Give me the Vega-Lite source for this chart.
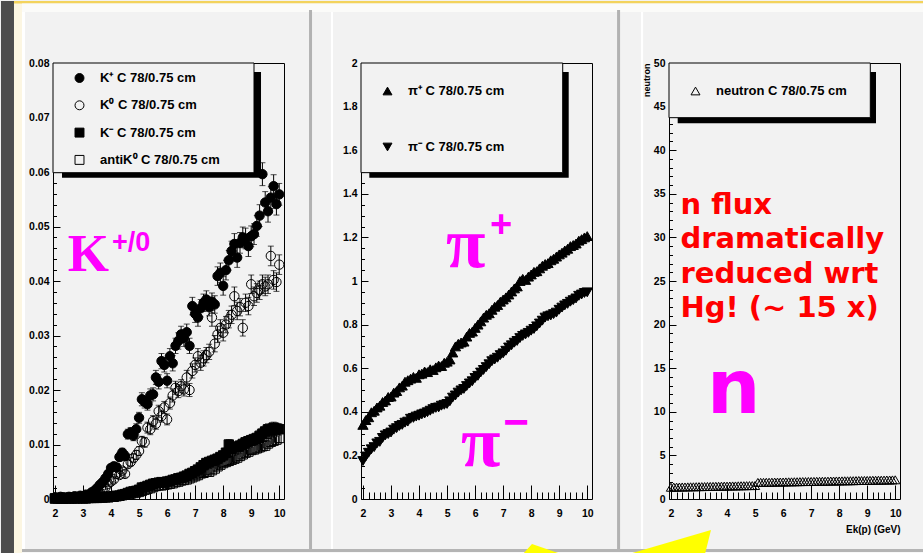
{
  "$schema": "https://vega.github.io/schema/vega-lite/v6.json",
  "padding": 0,
  "background": "#f2f2f2",
  "spacing": 77,
  "bounds": "flush",
  "datasets": {
    "kaon": [
      {"s":"Kp","x":2.0,"y":0.0003,"e":0.0002},{"s":"Kp","x":2.1,"y":0.0002,"e":0.0002},{"s":"Kp","x":2.2,"y":0.0004,"e":0.0002},{"s":"Kp","x":2.3,"y":0.0003,"e":0.0002},{"s":"Kp","x":2.4,"y":0.0002,"e":0.0002},
      {"s":"Kp","x":2.5,"y":0.0004,"e":0.0002},{"s":"Kp","x":2.6,"y":0.0003,"e":0.0002},{"s":"Kp","x":2.7,"y":0.0005,"e":0.0002},{"s":"Kp","x":2.8,"y":0.0004,"e":0.0002},{"s":"Kp","x":2.9,"y":0.0006,"e":0.0002},
      {"s":"Kp","x":3.0,"y":0.0005,"e":0.0002},{"s":"Kp","x":3.1,"y":0.0008,"e":0.0002},{"s":"Kp","x":3.2,"y":0.0007,"e":0.0002},{"s":"Kp","x":3.3,"y":0.0012,"e":0.0003},{"s":"Kp","x":3.4,"y":0.0015,"e":0.0003},
      {"s":"Kp","x":3.5,"y":0.0020,"e":0.0004},{"s":"Kp","x":3.6,"y":0.0026,"e":0.0004},{"s":"Kp","x":3.7,"y":0.0031,"e":0.0005},{"s":"Kp","x":3.8,"y":0.0038,"e":0.0005},{"s":"Kp","x":3.9,"y":0.0046,"e":0.0006},
      {"s":"Kp","x":4.0,"y":0.0057,"e":0.0006},{"s":"Kp","x":4.1,"y":0.0060,"e":0.0007},{"s":"Kp","x":4.2,"y":0.0058,"e":0.0007},{"s":"Kp","x":4.3,"y":0.0077,"e":0.0008},{"s":"Kp","x":4.4,"y":0.0085,"e":0.0008},
      {"s":"Kp","x":4.5,"y":0.0079,"e":0.0008},{"s":"Kp","x":4.6,"y":0.0119,"e":0.0009},{"s":"Kp","x":4.7,"y":0.0122,"e":0.0009},{"s":"Kp","x":4.8,"y":0.0116,"e":0.0009},{"s":"Kp","x":4.9,"y":0.0128,"e":0.0010},
      {"s":"Kp","x":5.0,"y":0.0149,"e":0.0010},{"s":"Kp","x":5.1,"y":0.0183,"e":0.0012},{"s":"Kp","x":5.2,"y":0.0178,"e":0.0011},{"s":"Kp","x":5.3,"y":0.0174,"e":0.0011},{"s":"Kp","x":5.4,"y":0.0190,"e":0.0012},
      {"s":"Kp","x":5.5,"y":0.0192,"e":0.0012},{"s":"Kp","x":5.6,"y":0.0223,"e":0.0013},{"s":"Kp","x":5.7,"y":0.0215,"e":0.0013},{"s":"Kp","x":5.8,"y":0.0253,"e":0.0014},{"s":"Kp","x":5.9,"y":0.0246,"e":0.0013},
      {"s":"Kp","x":6.0,"y":0.0217,"e":0.0013},{"s":"Kp","x":6.1,"y":0.0262,"e":0.0014},{"s":"Kp","x":6.2,"y":0.0249,"e":0.0014},{"s":"Kp","x":6.3,"y":0.0281,"e":0.0014},{"s":"Kp","x":6.4,"y":0.0290,"e":0.0015},
      {"s":"Kp","x":6.5,"y":0.0302,"e":0.0015},{"s":"Kp","x":6.6,"y":0.0295,"e":0.0015},{"s":"Kp","x":6.7,"y":0.0306,"e":0.0015},{"s":"Kp","x":6.8,"y":0.0281,"e":0.0014},{"s":"Kp","x":6.9,"y":0.0354,"e":0.0016},
      {"s":"Kp","x":7.0,"y":0.0340,"e":0.0016},{"s":"Kp","x":7.1,"y":0.0333,"e":0.0016},{"s":"Kp","x":7.2,"y":0.0350,"e":0.0016},{"s":"Kp","x":7.3,"y":0.0360,"e":0.0016},{"s":"Kp","x":7.4,"y":0.0366,"e":0.0016},
      {"s":"Kp","x":7.5,"y":0.0352,"e":0.0016},{"s":"Kp","x":7.6,"y":0.0362,"e":0.0016},{"s":"Kp","x":7.7,"y":0.0357,"e":0.0016},{"s":"Kp","x":7.8,"y":0.0409,"e":0.0017},{"s":"Kp","x":7.9,"y":0.0415,"e":0.0018},
      {"s":"Kp","x":8.0,"y":0.0391,"e":0.0017},{"s":"Kp","x":8.1,"y":0.0420,"e":0.0018},{"s":"Kp","x":8.2,"y":0.0438,"e":0.0018},{"s":"Kp","x":8.3,"y":0.0455,"e":0.0018},{"s":"Kp","x":8.4,"y":0.0468,"e":0.0019},
      {"s":"Kp","x":8.5,"y":0.0443,"e":0.0018},{"s":"Kp","x":8.6,"y":0.0470,"e":0.0019},{"s":"Kp","x":8.7,"y":0.0480,"e":0.0019},{"s":"Kp","x":8.8,"y":0.0478,"e":0.0019},{"s":"Kp","x":8.9,"y":0.0464,"e":0.0019},
      {"s":"Kp","x":9.0,"y":0.0482,"e":0.0019},{"s":"Kp","x":9.1,"y":0.0486,"e":0.0019},{"s":"Kp","x":9.2,"y":0.0501,"e":0.0019},{"s":"Kp","x":9.3,"y":0.0520,"e":0.0020},{"s":"Kp","x":9.4,"y":0.0596,"e":0.0021},
      {"s":"Kp","x":9.5,"y":0.0544,"e":0.0020},{"s":"Kp","x":9.6,"y":0.0528,"e":0.0020},{"s":"Kp","x":9.7,"y":0.0553,"e":0.0020},{"s":"Kp","x":9.8,"y":0.0574,"e":0.0021},{"s":"Kp","x":9.9,"y":0.0541,"e":0.0020},
      {"s":"Kp","x":10.0,"y":0.0559,"e":0.0020},
      {"s":"K0","x":2.0,"y":0.0002,"e":0.0002},{"s":"K0","x":2.1,"y":0.0001,"e":0.0002},{"s":"K0","x":2.2,"y":0.0002,"e":0.0002},{"s":"K0","x":2.3,"y":0.0002,"e":0.0002},{"s":"K0","x":2.4,"y":0.0001,"e":0.0002},
      {"s":"K0","x":2.5,"y":0.0002,"e":0.0002},{"s":"K0","x":2.6,"y":0.0003,"e":0.0002},{"s":"K0","x":2.7,"y":0.0002,"e":0.0002},{"s":"K0","x":2.8,"y":0.0003,"e":0.0002},{"s":"K0","x":2.9,"y":0.0003,"e":0.0002},
      {"s":"K0","x":3.0,"y":0.0004,"e":0.0002},{"s":"K0","x":3.1,"y":0.0004,"e":0.0002},{"s":"K0","x":3.2,"y":0.0005,"e":0.0002},{"s":"K0","x":3.3,"y":0.0006,"e":0.0002},{"s":"K0","x":3.4,"y":0.0008,"e":0.0002},
      {"s":"K0","x":3.5,"y":0.0010,"e":0.0003},{"s":"K0","x":3.6,"y":0.0012,"e":0.0003},{"s":"K0","x":3.7,"y":0.0018,"e":0.0004},{"s":"K0","x":3.8,"y":0.0021,"e":0.0004},{"s":"K0","x":3.9,"y":0.0028,"e":0.0005},
      {"s":"K0","x":4.0,"y":0.0032,"e":0.0005},{"s":"K0","x":4.1,"y":0.0036,"e":0.0005},{"s":"K0","x":4.2,"y":0.0046,"e":0.0006},{"s":"K0","x":4.3,"y":0.0044,"e":0.0006},{"s":"K0","x":4.4,"y":0.0052,"e":0.0006},
      {"s":"K0","x":4.5,"y":0.0046,"e":0.0006},{"s":"K0","x":4.6,"y":0.0064,"e":0.0007},{"s":"K0","x":4.7,"y":0.0068,"e":0.0007},{"s":"K0","x":4.8,"y":0.0075,"e":0.0007},{"s":"K0","x":4.9,"y":0.0081,"e":0.0008},
      {"s":"K0","x":5.0,"y":0.0088,"e":0.0008},{"s":"K0","x":5.1,"y":0.0106,"e":0.0009},{"s":"K0","x":5.2,"y":0.0104,"e":0.0009},{"s":"K0","x":5.3,"y":0.0131,"e":0.0010},{"s":"K0","x":5.4,"y":0.0128,"e":0.0010},
      {"s":"K0","x":5.5,"y":0.0143,"e":0.0010},{"s":"K0","x":5.6,"y":0.0138,"e":0.0010},{"s":"K0","x":5.7,"y":0.0161,"e":0.0011},{"s":"K0","x":5.8,"y":0.0152,"e":0.0011},{"s":"K0","x":5.9,"y":0.0168,"e":0.0011},
      {"s":"K0","x":6.0,"y":0.0146,"e":0.0010},{"s":"K0","x":6.1,"y":0.0176,"e":0.0011},{"s":"K0","x":6.2,"y":0.0190,"e":0.0012},{"s":"K0","x":6.3,"y":0.0204,"e":0.0012},{"s":"K0","x":6.4,"y":0.0198,"e":0.0012},
      {"s":"K0","x":6.5,"y":0.0207,"e":0.0012},{"s":"K0","x":6.6,"y":0.0201,"e":0.0012},{"s":"K0","x":6.7,"y":0.0223,"e":0.0013},{"s":"K0","x":6.8,"y":0.0200,"e":0.0012},{"s":"K0","x":6.9,"y":0.0235,"e":0.0013},
      {"s":"K0","x":7.0,"y":0.0246,"e":0.0013},{"s":"K0","x":7.1,"y":0.0262,"e":0.0014},{"s":"K0","x":7.2,"y":0.0250,"e":0.0014},{"s":"K0","x":7.3,"y":0.0258,"e":0.0014},{"s":"K0","x":7.4,"y":0.0264,"e":0.0014},
      {"s":"K0","x":7.5,"y":0.0270,"e":0.0014},{"s":"K0","x":7.6,"y":0.0333,"e":0.0016},{"s":"K0","x":7.7,"y":0.0285,"e":0.0015},{"s":"K0","x":7.8,"y":0.0302,"e":0.0015},{"s":"K0","x":7.9,"y":0.0314,"e":0.0015},
      {"s":"K0","x":8.0,"y":0.0305,"e":0.0015},{"s":"K0","x":8.1,"y":0.0320,"e":0.0015},{"s":"K0","x":8.2,"y":0.0330,"e":0.0016},{"s":"K0","x":8.3,"y":0.0338,"e":0.0016},{"s":"K0","x":8.4,"y":0.0372,"e":0.0017},
      {"s":"K0","x":8.5,"y":0.0345,"e":0.0016},{"s":"K0","x":8.6,"y":0.0352,"e":0.0016},{"s":"K0","x":8.7,"y":0.0314,"e":0.0015},{"s":"K0","x":8.8,"y":0.0360,"e":0.0016},{"s":"K0","x":8.9,"y":0.0354,"e":0.0016},
      {"s":"K0","x":9.0,"y":0.0394,"e":0.0017},{"s":"K0","x":9.1,"y":0.0372,"e":0.0017},{"s":"K0","x":9.2,"y":0.0378,"e":0.0017},{"s":"K0","x":9.3,"y":0.0383,"e":0.0017},{"s":"K0","x":9.4,"y":0.0394,"e":0.0017},
      {"s":"K0","x":9.5,"y":0.0390,"e":0.0017},{"s":"K0","x":9.6,"y":0.0394,"e":0.0017},{"s":"K0","x":9.7,"y":0.0446,"e":0.0018},{"s":"K0","x":9.8,"y":0.0402,"e":0.0017},{"s":"K0","x":9.9,"y":0.0398,"e":0.0017},
      {"s":"K0","x":10.0,"y":0.0430,"e":0.0018},
      {"s":"Km","x":2.0,"y":0.0001,"e":0.0001},{"s":"Km","x":2.1,"y":0.0002,"e":0.0001},{"s":"Km","x":2.2,"y":0.0001,"e":0.0001},{"s":"Km","x":2.3,"y":0.0001,"e":0.0001},{"s":"Km","x":2.4,"y":0.0002,"e":0.0001},
      {"s":"Km","x":2.5,"y":0.0001,"e":0.0001},{"s":"Km","x":2.6,"y":0.0002,"e":0.0001},{"s":"Km","x":2.7,"y":0.0001,"e":0.0001},{"s":"Km","x":2.8,"y":0.0002,"e":0.0001},{"s":"Km","x":2.9,"y":0.0002,"e":0.0001},
      {"s":"Km","x":3.0,"y":0.0001,"e":0.0001},{"s":"Km","x":3.1,"y":0.0002,"e":0.0001},{"s":"Km","x":3.2,"y":0.0002,"e":0.0001},{"s":"Km","x":3.3,"y":0.0003,"e":0.0001},{"s":"Km","x":3.4,"y":0.0002,"e":0.0001},
      {"s":"Km","x":3.5,"y":0.0003,"e":0.0001},{"s":"Km","x":3.6,"y":0.0003,"e":0.0001},{"s":"Km","x":3.7,"y":0.0003,"e":0.0001},{"s":"Km","x":3.8,"y":0.0004,"e":0.0002},{"s":"Km","x":3.9,"y":0.0003,"e":0.0001},
      {"s":"Km","x":4.0,"y":0.0004,"e":0.0002},{"s":"Km","x":4.1,"y":0.0005,"e":0.0002},{"s":"Km","x":4.2,"y":0.0006,"e":0.0002},{"s":"Km","x":4.3,"y":0.0006,"e":0.0002},{"s":"Km","x":4.4,"y":0.0008,"e":0.0002},
      {"s":"Km","x":4.5,"y":0.0009,"e":0.0002},{"s":"Km","x":4.6,"y":0.0011,"e":0.0003},{"s":"Km","x":4.7,"y":0.0013,"e":0.0003},{"s":"Km","x":4.8,"y":0.0014,"e":0.0003},{"s":"Km","x":4.9,"y":0.0015,"e":0.0003},
      {"s":"Km","x":5.0,"y":0.0017,"e":0.0003},{"s":"Km","x":5.1,"y":0.0021,"e":0.0004},{"s":"Km","x":5.2,"y":0.0022,"e":0.0004},{"s":"Km","x":5.3,"y":0.0024,"e":0.0004},{"s":"Km","x":5.4,"y":0.0026,"e":0.0004},
      {"s":"Km","x":5.5,"y":0.0028,"e":0.0004},{"s":"Km","x":5.6,"y":0.0029,"e":0.0004},{"s":"Km","x":5.7,"y":0.0030,"e":0.0004},{"s":"Km","x":5.8,"y":0.0031,"e":0.0004},{"s":"Km","x":5.9,"y":0.0030,"e":0.0004},
      {"s":"Km","x":6.0,"y":0.0032,"e":0.0005},{"s":"Km","x":6.1,"y":0.0033,"e":0.0005},{"s":"Km","x":6.2,"y":0.0035,"e":0.0005},{"s":"Km","x":6.3,"y":0.0036,"e":0.0005},{"s":"Km","x":6.4,"y":0.0038,"e":0.0005},
      {"s":"Km","x":6.5,"y":0.0039,"e":0.0005},{"s":"Km","x":6.6,"y":0.0041,"e":0.0005},{"s":"Km","x":6.7,"y":0.0043,"e":0.0005},{"s":"Km","x":6.8,"y":0.0046,"e":0.0006},{"s":"Km","x":6.9,"y":0.0048,"e":0.0006},
      {"s":"Km","x":7.0,"y":0.0051,"e":0.0006},{"s":"Km","x":7.1,"y":0.0054,"e":0.0006},{"s":"Km","x":7.2,"y":0.0058,"e":0.0006},{"s":"Km","x":7.3,"y":0.0062,"e":0.0007},{"s":"Km","x":7.4,"y":0.0066,"e":0.0007},
      {"s":"Km","x":7.5,"y":0.0068,"e":0.0007},{"s":"Km","x":7.6,"y":0.0070,"e":0.0007},{"s":"Km","x":7.7,"y":0.0072,"e":0.0007},{"s":"Km","x":7.8,"y":0.0074,"e":0.0007},{"s":"Km","x":7.9,"y":0.0077,"e":0.0007},
      {"s":"Km","x":8.0,"y":0.0080,"e":0.0008},{"s":"Km","x":8.1,"y":0.0085,"e":0.0008},{"s":"Km","x":8.2,"y":0.0100,"e":0.0009},{"s":"Km","x":8.3,"y":0.0092,"e":0.0008},{"s":"Km","x":8.4,"y":0.0095,"e":0.0009},
      {"s":"Km","x":8.5,"y":0.0096,"e":0.0009},{"s":"Km","x":8.6,"y":0.0098,"e":0.0009},{"s":"Km","x":8.7,"y":0.0101,"e":0.0009},{"s":"Km","x":8.8,"y":0.0104,"e":0.0009},{"s":"Km","x":8.9,"y":0.0106,"e":0.0009},
      {"s":"Km","x":9.0,"y":0.0108,"e":0.0009},{"s":"Km","x":9.1,"y":0.0110,"e":0.0009},{"s":"Km","x":9.2,"y":0.0112,"e":0.0009},{"s":"Km","x":9.3,"y":0.0116,"e":0.0010},{"s":"Km","x":9.4,"y":0.0120,"e":0.0010},
      {"s":"Km","x":9.5,"y":0.0124,"e":0.0010},{"s":"Km","x":9.6,"y":0.0128,"e":0.0010},{"s":"Km","x":9.7,"y":0.0126,"e":0.0010},{"s":"Km","x":9.8,"y":0.0131,"e":0.0010},{"s":"Km","x":9.9,"y":0.0129,"e":0.0010},
      {"s":"Km","x":10.0,"y":0.0128,"e":0.0010},
      {"s":"aK0","x":2.0,"y":0.0001,"e":0.0001},{"s":"aK0","x":2.1,"y":0.0001,"e":0.0001},{"s":"aK0","x":2.2,"y":0.0002,"e":0.0001},{"s":"aK0","x":2.3,"y":0.0001,"e":0.0001},{"s":"aK0","x":2.4,"y":0.0001,"e":0.0001},
      {"s":"aK0","x":2.5,"y":0.0002,"e":0.0001},{"s":"aK0","x":2.6,"y":0.0001,"e":0.0001},{"s":"aK0","x":2.7,"y":0.0002,"e":0.0001},{"s":"aK0","x":2.8,"y":0.0001,"e":0.0001},{"s":"aK0","x":2.9,"y":0.0002,"e":0.0001},
      {"s":"aK0","x":3.0,"y":0.0002,"e":0.0001},{"s":"aK0","x":3.1,"y":0.0001,"e":0.0001},{"s":"aK0","x":3.2,"y":0.0002,"e":0.0001},{"s":"aK0","x":3.3,"y":0.0002,"e":0.0001},{"s":"aK0","x":3.4,"y":0.0003,"e":0.0001},
      {"s":"aK0","x":3.5,"y":0.0002,"e":0.0001},{"s":"aK0","x":3.6,"y":0.0003,"e":0.0001},{"s":"aK0","x":3.7,"y":0.0003,"e":0.0001},{"s":"aK0","x":3.8,"y":0.0003,"e":0.0001},{"s":"aK0","x":3.9,"y":0.0004,"e":0.0002},
      {"s":"aK0","x":4.0,"y":0.0004,"e":0.0002},{"s":"aK0","x":4.1,"y":0.0004,"e":0.0002},{"s":"aK0","x":4.2,"y":0.0005,"e":0.0002},{"s":"aK0","x":4.3,"y":0.0006,"e":0.0002},{"s":"aK0","x":4.4,"y":0.0007,"e":0.0002},
      {"s":"aK0","x":4.5,"y":0.0008,"e":0.0002},{"s":"aK0","x":4.6,"y":0.0009,"e":0.0002},{"s":"aK0","x":4.7,"y":0.0010,"e":0.0003},{"s":"aK0","x":4.8,"y":0.0011,"e":0.0003},{"s":"aK0","x":4.9,"y":0.0012,"e":0.0003},
      {"s":"aK0","x":5.0,"y":0.0013,"e":0.0003},{"s":"aK0","x":5.1,"y":0.0015,"e":0.0003},{"s":"aK0","x":5.2,"y":0.0017,"e":0.0003},{"s":"aK0","x":5.3,"y":0.0019,"e":0.0004},{"s":"aK0","x":5.4,"y":0.0020,"e":0.0004},
      {"s":"aK0","x":5.5,"y":0.0022,"e":0.0004},{"s":"aK0","x":5.6,"y":0.0024,"e":0.0004},{"s":"aK0","x":5.7,"y":0.0025,"e":0.0004},{"s":"aK0","x":5.8,"y":0.0025,"e":0.0004},{"s":"aK0","x":5.9,"y":0.0026,"e":0.0004},
      {"s":"aK0","x":6.0,"y":0.0027,"e":0.0004},{"s":"aK0","x":6.1,"y":0.0028,"e":0.0004},{"s":"aK0","x":6.2,"y":0.0029,"e":0.0004},{"s":"aK0","x":6.3,"y":0.0031,"e":0.0004},{"s":"aK0","x":6.4,"y":0.0032,"e":0.0005},
      {"s":"aK0","x":6.5,"y":0.0034,"e":0.0005},{"s":"aK0","x":6.6,"y":0.0035,"e":0.0005},{"s":"aK0","x":6.7,"y":0.0036,"e":0.0005},{"s":"aK0","x":6.8,"y":0.0038,"e":0.0005},{"s":"aK0","x":6.9,"y":0.0040,"e":0.0005},
      {"s":"aK0","x":7.0,"y":0.0042,"e":0.0005},{"s":"aK0","x":7.1,"y":0.0044,"e":0.0006},{"s":"aK0","x":7.2,"y":0.0047,"e":0.0006},{"s":"aK0","x":7.3,"y":0.0048,"e":0.0006},{"s":"aK0","x":7.4,"y":0.0050,"e":0.0006},
      {"s":"aK0","x":7.5,"y":0.0050,"e":0.0006},{"s":"aK0","x":7.6,"y":0.0053,"e":0.0006},{"s":"aK0","x":7.7,"y":0.0056,"e":0.0006},{"s":"aK0","x":7.8,"y":0.0060,"e":0.0007},{"s":"aK0","x":7.9,"y":0.0063,"e":0.0007},
      {"s":"aK0","x":8.0,"y":0.0066,"e":0.0007},{"s":"aK0","x":8.1,"y":0.0068,"e":0.0007},{"s":"aK0","x":8.2,"y":0.0070,"e":0.0007},{"s":"aK0","x":8.3,"y":0.0072,"e":0.0007},{"s":"aK0","x":8.4,"y":0.0074,"e":0.0007},
      {"s":"aK0","x":8.5,"y":0.0076,"e":0.0007},{"s":"aK0","x":8.6,"y":0.0079,"e":0.0008},{"s":"aK0","x":8.7,"y":0.0082,"e":0.0008},{"s":"aK0","x":8.8,"y":0.0085,"e":0.0008},{"s":"aK0","x":8.9,"y":0.0087,"e":0.0008},
      {"s":"aK0","x":9.0,"y":0.0090,"e":0.0008},{"s":"aK0","x":9.1,"y":0.0091,"e":0.0008},{"s":"aK0","x":9.2,"y":0.0093,"e":0.0008},{"s":"aK0","x":9.3,"y":0.0095,"e":0.0009},{"s":"aK0","x":9.4,"y":0.0097,"e":0.0009},
      {"s":"aK0","x":9.5,"y":0.0098,"e":0.0009},{"s":"aK0","x":9.6,"y":0.0102,"e":0.0009},{"s":"aK0","x":9.7,"y":0.0105,"e":0.0009},{"s":"aK0","x":9.8,"y":0.0107,"e":0.0009},{"s":"aK0","x":9.9,"y":0.0109,"e":0.0009},
      {"s":"aK0","x":10.0,"y":0.0112,"e":0.0009}
    ],
    "pion": [
      {"s":"pp","x":2.0,"y":0.340},{"s":"pp","x":2.1,"y":0.362},{"s":"pp","x":2.2,"y":0.375},{"s":"pp","x":2.3,"y":0.398},{"s":"pp","x":2.4,"y":0.405},
      {"s":"pp","x":2.5,"y":0.420},{"s":"pp","x":2.6,"y":0.428},{"s":"pp","x":2.7,"y":0.445},{"s":"pp","x":2.8,"y":0.452},{"s":"pp","x":2.9,"y":0.468},
      {"s":"pp","x":3.0,"y":0.470},{"s":"pp","x":3.1,"y":0.488},{"s":"pp","x":3.2,"y":0.495},{"s":"pp","x":3.3,"y":0.512},{"s":"pp","x":3.4,"y":0.520},
      {"s":"pp","x":3.5,"y":0.538},{"s":"pp","x":3.6,"y":0.545},{"s":"pp","x":3.7,"y":0.552},{"s":"pp","x":3.8,"y":0.560},{"s":"pp","x":3.9,"y":0.556},
      {"s":"pp","x":4.0,"y":0.572},{"s":"pp","x":4.1,"y":0.575},{"s":"pp","x":4.2,"y":0.585},{"s":"pp","x":4.3,"y":0.582},{"s":"pp","x":4.4,"y":0.595},
      {"s":"pp","x":4.5,"y":0.592},{"s":"pp","x":4.6,"y":0.604},{"s":"pp","x":4.7,"y":0.612},{"s":"pp","x":4.8,"y":0.610},{"s":"pp","x":4.9,"y":0.625},
      {"s":"pp","x":5.0,"y":0.630},{"s":"pp","x":5.1,"y":0.640},{"s":"pp","x":5.2,"y":0.672},{"s":"pp","x":5.3,"y":0.700},{"s":"pp","x":5.4,"y":0.712},
      {"s":"pp","x":5.5,"y":0.718},{"s":"pp","x":5.6,"y":0.722},{"s":"pp","x":5.7,"y":0.745},{"s":"pp","x":5.8,"y":0.762},{"s":"pp","x":5.9,"y":0.768},
      {"s":"pp","x":6.0,"y":0.785},{"s":"pp","x":6.1,"y":0.800},{"s":"pp","x":6.2,"y":0.815},{"s":"pp","x":6.3,"y":0.832},{"s":"pp","x":6.4,"y":0.845},
      {"s":"pp","x":6.5,"y":0.852},{"s":"pp","x":6.6,"y":0.868},{"s":"pp","x":6.7,"y":0.882},{"s":"pp","x":6.8,"y":0.890},{"s":"pp","x":6.9,"y":0.905},
      {"s":"pp","x":7.0,"y":0.915},{"s":"pp","x":7.1,"y":0.925},{"s":"pp","x":7.2,"y":0.938},{"s":"pp","x":7.3,"y":0.952},{"s":"pp","x":7.4,"y":0.966},
      {"s":"pp","x":7.5,"y":0.975},{"s":"pp","x":7.6,"y":1.000},{"s":"pp","x":7.7,"y":1.010},{"s":"pp","x":7.8,"y":1.005},{"s":"pp","x":7.9,"y":1.020},
      {"s":"pp","x":8.0,"y":1.030},{"s":"pp","x":8.1,"y":1.042},{"s":"pp","x":8.2,"y":1.045},{"s":"pp","x":8.3,"y":1.058},{"s":"pp","x":8.4,"y":1.070},
      {"s":"pp","x":8.5,"y":1.078},{"s":"pp","x":8.6,"y":1.082},{"s":"pp","x":8.7,"y":1.095},{"s":"pp","x":8.8,"y":1.102},{"s":"pp","x":8.9,"y":1.112},
      {"s":"pp","x":9.0,"y":1.122},{"s":"pp","x":9.1,"y":1.130},{"s":"pp","x":9.2,"y":1.140},{"s":"pp","x":9.3,"y":1.148},{"s":"pp","x":9.4,"y":1.160},
      {"s":"pp","x":9.5,"y":1.165},{"s":"pp","x":9.6,"y":1.172},{"s":"pp","x":9.7,"y":1.185},{"s":"pp","x":9.8,"y":1.192},{"s":"pp","x":9.9,"y":1.200},
      {"s":"pp","x":10.0,"y":1.206},
      {"s":"pm","x":2.0,"y":0.174},{"s":"pm","x":2.1,"y":0.195},{"s":"pm","x":2.2,"y":0.212},{"s":"pm","x":2.3,"y":0.228},{"s":"pm","x":2.4,"y":0.238},
      {"s":"pm","x":2.5,"y":0.255},{"s":"pm","x":2.6,"y":0.262},{"s":"pm","x":2.7,"y":0.280},{"s":"pm","x":2.8,"y":0.292},{"s":"pm","x":2.9,"y":0.298},
      {"s":"pm","x":3.0,"y":0.305},{"s":"pm","x":3.1,"y":0.318},{"s":"pm","x":3.2,"y":0.325},{"s":"pm","x":3.3,"y":0.335},{"s":"pm","x":3.4,"y":0.340},
      {"s":"pm","x":3.5,"y":0.350},{"s":"pm","x":3.6,"y":0.355},{"s":"pm","x":3.7,"y":0.368},{"s":"pm","x":3.8,"y":0.372},{"s":"pm","x":3.9,"y":0.378},
      {"s":"pm","x":4.0,"y":0.382},{"s":"pm","x":4.1,"y":0.388},{"s":"pm","x":4.2,"y":0.392},{"s":"pm","x":4.3,"y":0.398},{"s":"pm","x":4.4,"y":0.405},
      {"s":"pm","x":4.5,"y":0.412},{"s":"pm","x":4.6,"y":0.418},{"s":"pm","x":4.7,"y":0.420},{"s":"pm","x":4.8,"y":0.428},{"s":"pm","x":4.9,"y":0.432},
      {"s":"pm","x":5.0,"y":0.436},{"s":"pm","x":5.1,"y":0.448},{"s":"pm","x":5.2,"y":0.465},{"s":"pm","x":5.3,"y":0.475},{"s":"pm","x":5.4,"y":0.488},
      {"s":"pm","x":5.5,"y":0.498},{"s":"pm","x":5.6,"y":0.505},{"s":"pm","x":5.7,"y":0.518},{"s":"pm","x":5.8,"y":0.530},{"s":"pm","x":5.9,"y":0.540},
      {"s":"pm","x":6.0,"y":0.555},{"s":"pm","x":6.1,"y":0.565},{"s":"pm","x":6.2,"y":0.580},{"s":"pm","x":6.3,"y":0.592},{"s":"pm","x":6.4,"y":0.605},
      {"s":"pm","x":6.5,"y":0.618},{"s":"pm","x":6.6,"y":0.632},{"s":"pm","x":6.7,"y":0.640},{"s":"pm","x":6.8,"y":0.648},{"s":"pm","x":6.9,"y":0.660},
      {"s":"pm","x":7.0,"y":0.668},{"s":"pm","x":7.1,"y":0.680},{"s":"pm","x":7.2,"y":0.695},{"s":"pm","x":7.3,"y":0.705},{"s":"pm","x":7.4,"y":0.717},
      {"s":"pm","x":7.5,"y":0.725},{"s":"pm","x":7.6,"y":0.738},{"s":"pm","x":7.7,"y":0.748},{"s":"pm","x":7.8,"y":0.755},{"s":"pm","x":7.9,"y":0.762},
      {"s":"pm","x":8.0,"y":0.772},{"s":"pm","x":8.1,"y":0.780},{"s":"pm","x":8.2,"y":0.792},{"s":"pm","x":8.3,"y":0.805},{"s":"pm","x":8.4,"y":0.818},
      {"s":"pm","x":8.5,"y":0.832},{"s":"pm","x":8.6,"y":0.838},{"s":"pm","x":8.7,"y":0.842},{"s":"pm","x":8.8,"y":0.848},{"s":"pm","x":8.9,"y":0.855},
      {"s":"pm","x":9.0,"y":0.868},{"s":"pm","x":9.1,"y":0.878},{"s":"pm","x":9.2,"y":0.888},{"s":"pm","x":9.3,"y":0.895},{"s":"pm","x":9.4,"y":0.905},
      {"s":"pm","x":9.5,"y":0.912},{"s":"pm","x":9.6,"y":0.920},{"s":"pm","x":9.7,"y":0.932},{"s":"pm","x":9.8,"y":0.938},{"s":"pm","x":9.9,"y":0.945},
      {"s":"pm","x":10.0,"y":0.948}
    ],
    "neutron": [
      {"s":"n","x":2.0,"y":1.35},{"s":"n","x":2.1,"y":1.36},{"s":"n","x":2.2,"y":1.36},{"s":"n","x":2.3,"y":1.37},{"s":"n","x":2.4,"y":1.38},
      {"s":"n","x":2.5,"y":1.38},{"s":"n","x":2.6,"y":1.39},{"s":"n","x":2.7,"y":1.40},{"s":"n","x":2.8,"y":1.40},{"s":"n","x":2.9,"y":1.41},
      {"s":"n","x":3.0,"y":1.42},{"s":"n","x":3.1,"y":1.42},{"s":"n","x":3.2,"y":1.43},{"s":"n","x":3.3,"y":1.44},{"s":"n","x":3.4,"y":1.44},
      {"s":"n","x":3.5,"y":1.45},{"s":"n","x":3.6,"y":1.46},{"s":"n","x":3.7,"y":1.46},{"s":"n","x":3.8,"y":1.47},{"s":"n","x":3.9,"y":1.48},
      {"s":"n","x":4.0,"y":1.48},{"s":"n","x":4.1,"y":1.49},{"s":"n","x":4.2,"y":1.50},{"s":"n","x":4.3,"y":1.50},{"s":"n","x":4.4,"y":1.51},
      {"s":"n","x":4.5,"y":1.52},{"s":"n","x":4.6,"y":1.52},{"s":"n","x":4.7,"y":1.53},{"s":"n","x":4.8,"y":1.54},{"s":"n","x":4.9,"y":1.54},
      {"s":"n","x":5.0,"y":1.55},{"s":"n","x":5.1,"y":1.90},{"s":"n","x":5.2,"y":1.91},{"s":"n","x":5.3,"y":1.91},{"s":"n","x":5.4,"y":1.92},
      {"s":"n","x":5.5,"y":1.92},{"s":"n","x":5.6,"y":1.93},{"s":"n","x":5.7,"y":1.94},{"s":"n","x":5.8,"y":1.94},{"s":"n","x":5.9,"y":1.95},
      {"s":"n","x":6.0,"y":1.95},{"s":"n","x":6.1,"y":1.96},{"s":"n","x":6.2,"y":1.97},{"s":"n","x":6.3,"y":1.97},{"s":"n","x":6.4,"y":1.98},
      {"s":"n","x":6.5,"y":1.98},{"s":"n","x":6.6,"y":1.99},{"s":"n","x":6.7,"y":2.00},{"s":"n","x":6.8,"y":2.00},{"s":"n","x":6.9,"y":2.01},
      {"s":"n","x":7.0,"y":2.01},{"s":"n","x":7.1,"y":2.02},{"s":"n","x":7.2,"y":2.03},{"s":"n","x":7.3,"y":2.03},{"s":"n","x":7.4,"y":2.04},
      {"s":"n","x":7.5,"y":2.04},{"s":"n","x":7.6,"y":2.05},{"s":"n","x":7.7,"y":2.06},{"s":"n","x":7.8,"y":2.06},{"s":"n","x":7.9,"y":2.07},
      {"s":"n","x":8.0,"y":2.07},{"s":"n","x":8.1,"y":2.08},{"s":"n","x":8.2,"y":2.09},{"s":"n","x":8.3,"y":2.09},{"s":"n","x":8.4,"y":2.10},
      {"s":"n","x":8.5,"y":2.10},{"s":"n","x":8.6,"y":2.11},{"s":"n","x":8.7,"y":2.12},{"s":"n","x":8.8,"y":2.12},{"s":"n","x":8.9,"y":2.13},
      {"s":"n","x":9.0,"y":2.13},{"s":"n","x":9.1,"y":2.14},{"s":"n","x":9.2,"y":2.15},{"s":"n","x":9.3,"y":2.15},{"s":"n","x":9.4,"y":2.16},
      {"s":"n","x":9.5,"y":2.16},{"s":"n","x":9.6,"y":2.17},{"s":"n","x":9.7,"y":2.18},{"s":"n","x":9.8,"y":2.18},{"s":"n","x":9.9,"y":2.19},
      {"s":"n","x":10.0,"y":2.20}
    ]
  },
  "config": {
    "view": {"stroke": "black", "strokeWidth": 1},
    "axis": {
      "domain": false, "grid": false, "tickColor": "black", "tickWidth": 1,
      "labelColor": "black", "labelFont": "Liberation Sans", "labelFontWeight": "bold", "labelFontSize": 10.5,
      "labelOverlap": false, "labelFlush": false,
      "titleFont": "Liberation Sans", "titleFontWeight": "bold", "titleColor": "black", "titleFontSize": 10
    },
    "legend": {
      "orient": "none", "title": null, "padding": 0,
      "labelFont": "Liberation Sans", "labelFontWeight": "bold", "labelFontSize": 13, "labelColor": "black", "labelLimit": 400,
      "symbolStrokeColor": "black", "symbolStrokeWidth": 1, "symbolOpacity": 1, "labelOffset": 14
    }
  },
  "resolve": {
    "scale": {"x": "independent", "y": "independent", "shape": "independent", "fill": "independent", "stroke": "independent"},
    "legend": {"shape": "independent", "fill": "independent", "stroke": "independent"}
  },
  "hconcat": [
    {
      "width": 231, "height": 436,
      "encoding": {
        "x": {"type": "quantitative",
              "scale": {"domain": [1.93, 10.17], "nice": false, "zero": false},
              "axis": {"title": null,
                       "values": [2,2.2,2.4,2.6,2.8,3,3.2,3.4,3.6,3.8,4,4.2,4.4,4.6,4.8,5,5.2,5.4,5.6,5.8,6,6.2,6.4,6.6,6.8,7,7.2,7.4,7.6,7.8,8,8.2,8.4,8.6,8.8,9,9.2,9.4,9.6,9.8,10],
                       "tickSize": {"condition": {"test": "abs(datum.value - round(datum.value)) < 0.001", "value": -14}, "value": -7},
                       "labelPadding": 23,
                       "labelExpr": "abs(datum.value - round(datum.value)) < 0.001 ? format(datum.value, 'd') : ''"}},
        "y": {"type": "quantitative",
              "scale": {"domain": [0, 0.08], "nice": false, "zero": false},
              "axis": {"title": null,
                       "values": [0,0.002,0.004,0.006,0.008,0.01,0.012,0.014,0.016,0.018,0.02,0.022,0.024,0.026,0.028,0.03,0.032,0.034,0.036,0.038,0.04,0.042,0.044,0.046,0.048,0.05,0.052,0.054,0.056,0.058,0.06,0.062,0.064,0.066,0.068,0.07,0.072,0.074,0.076,0.078,0.08],
                       "tickSize": {"condition": {"test": "abs(datum.value*100 - round(datum.value*100)) < 0.001", "value": -7}, "value": -3.5},
                       "labelPadding": 11,
                       "labelExpr": "abs(datum.value*100 - round(datum.value*100)) < 0.001 ? (datum.value == 0 ? '0' : format(datum.value, '.2f')) : ''"}}
      },
      "layer": [
        {"data": {"values": [{}]}, "mark": {"type": "rect", "fill": "#4d4d4d"},
         "encoding": {"x": {"datum": 0.0749}, "x2": {"datum": 0.5386}, "y": {"datum": 0.091376}, "y2": {"datum": -0.0100}}},
        {"data": {"values": [{}]}, "mark": {"type": "rect", "fill": "#fcf6e2"},
         "encoding": {"x": {"datum": 0.5386}, "x2": {"datum": 0.824}, "y": {"datum": 0.091376}, "y2": {"datum": -0.0100}}},
        {"data": {"values": [{}]}, "mark": {"type": "rect", "fill": "#ffffff"},
         "encoding": {"x": {"datum": 0.824}, "x2": {"datum": 0.931}, "y": {"datum": 0.089725}, "y2": {"datum": -0.009358}}},
        {"data": {"values": [{}]}, "mark": {"type": "rect", "fill": "#f3d35c"},
         "encoding": {"x": {"datum": 0.5386}, "x2": {"datum": 32.978}, "y": {"datum": 0.091376}, "y2": {"datum": 0.090917}}},
        {"data": {"values": [{}]}, "mark": {"type": "rect", "fill": "#fbfbf9"},
         "encoding": {"x": {"datum": 0.824}, "x2": {"datum": 32.978}, "y": {"datum": 0.090917}, "y2": {"datum": 0.089358}}},
        {"data": {"values": [{}]}, "mark": {"type": "rect", "fill": "#b2b2b2"},
         "encoding": {"x": {"datum": 11.063}, "x2": {"datum": 11.170}, "y": {"datum": 0.089725}, "y2": {"datum": -0.009358}}},
        {"data": {"values": [{}]}, "mark": {"type": "rect", "fill": "#ffffff"},
         "encoding": {"x": {"datum": 11.848}, "x2": {"datum": 11.919}, "y": {"datum": 0.089358}, "y2": {"datum": -0.009174}}},
        {"data": {"values": [{}]}, "mark": {"type": "rect", "fill": "#b2b2b2"},
         "encoding": {"x": {"datum": 22.051}, "x2": {"datum": 22.158}, "y": {"datum": 0.089725}, "y2": {"datum": -0.009358}}},
        {"data": {"values": [{}]}, "mark": {"type": "rect", "fill": "#ffffff"},
         "encoding": {"x": {"datum": 22.907}, "x2": {"datum": 22.979}, "y": {"datum": 0.089358}, "y2": {"datum": -0.009174}}},
        {"data": {"values": [{}]}, "mark": {"type": "rect", "fill": "#b4b4b4"},
         "encoding": {"x": {"datum": 0.824}, "x2": {"datum": 32.978}, "y": {"datum": -0.009174}, "y2": {"datum": -0.009725}}},
        {"data": {"values": [{}]}, "mark": {"type": "rect", "fill": "#f8f8f8"},
         "encoding": {"x": {"datum": 0.824}, "x2": {"datum": 32.978}, "y": {"datum": -0.009725}, "y2": {"datum": -0.0100}}},
        {"data": {"values": [{}]}, "mark": {"type": "rect", "fill": "black"},
         "encoding": {"x": {"datum": 2.251}, "x2": {"datum": 9.350}, "y": {"datum": 0.07835}, "y2": {"datum": 0.05895}}},
        {"data": {"values": [{}]}, "mark": {"type": "rect", "fill": "#f2f2f2", "stroke": "black", "strokeWidth": 1},
         "encoding": {"x": {"datum": 1.93}, "x2": {"datum": 9.100}, "y": {"datum": 0.08}, "y2": {"datum": 0.05987}}},
        {"data": {"name": "kaon"},
         "mark": {"type": "errorbar", "ticks": {"size": 6}, "color": "black", "thickness": 1},
         "encoding": {"x": {"field": "x"}, "y": {"field": "y"}, "yError": {"field": "e"}}},
        {"data": {"name": "kaon"},
         "mark": {"type": "point", "size": 88, "strokeWidth": 1, "opacity": 1},
         "encoding": {
           "x": {"field": "x"},
           "y": {"field": "y"},
           "shape": {"field": "s", "type": "nominal",
                     "scale": {"domain": ["Kp", "K0", "Km", "aK0"], "range": ["circle", "circle", "square", "square"]},
                     "legend": {"legendX": 20, "legendY": 8.5, "rowPadding": 13.3, "symbolSize": 80,
                                "labelExpr": "datum.value == 'Kp' ? 'K⁺ C 78/0.75 cm' : datum.value == 'K0' ? 'K⁰ C 78/0.75 cm' : datum.value == 'Km' ? 'K⁻ C 78/0.75 cm' : 'antiK⁰ C 78/0.75 cm'"}},
           "fill": {"field": "s", "type": "nominal",
                    "scale": {"domain": ["Kp", "K0", "Km", "aK0"], "range": ["black", "transparent", "black", "transparent"]},
                    "legend": {"legendX": 20, "legendY": 8.5, "rowPadding": 13.3, "symbolSize": 80,
                               "labelExpr": "datum.value == 'Kp' ? 'K⁺ C 78/0.75 cm' : datum.value == 'K0' ? 'K⁰ C 78/0.75 cm' : datum.value == 'Km' ? 'K⁻ C 78/0.75 cm' : 'antiK⁰ C 78/0.75 cm'"}},
           "stroke": {"field": "s", "type": "nominal",
                      "scale": {"domain": ["Kp", "K0", "Km", "aK0"], "range": ["black", "black", "black", "black"]},
                      "legend": {"legendX": 20, "legendY": 8.5, "rowPadding": 13.3, "symbolSize": 80,
                                 "labelExpr": "datum.value == 'Kp' ? 'K⁺ C 78/0.75 cm' : datum.value == 'K0' ? 'K⁰ C 78/0.75 cm' : datum.value == 'Km' ? 'K⁻ C 78/0.75 cm' : 'antiK⁰ C 78/0.75 cm'"}}
         }},
        {"data": {"values": [{}]},
         "mark": {"type": "text", "text": "K", "font": "Liberation Serif", "fontWeight": "bold", "fontSize": 53, "color": "#ff00ff", "align": "left", "baseline": "alphabetic"},
         "encoding": {"x": {"datum": 2.454}, "y": {"datum": 0.0418}}},
        {"data": {"values": [{}]},
         "mark": {"type": "text", "text": "+/0", "font": "Liberation Sans", "fontWeight": "bold", "fontSize": 27, "color": "#ff00ff", "align": "left", "baseline": "alphabetic"},
         "encoding": {"x": {"datum": 4.035}, "y": {"datum": 0.0455}}}
      ]
    },
    {
      "width": 231, "height": 436,
      "encoding": {
        "x": {"type": "quantitative",
              "scale": {"domain": [1.93, 10.17], "nice": false, "zero": false},
              "axis": {"title": null,
                       "values": [2,2.2,2.4,2.6,2.8,3,3.2,3.4,3.6,3.8,4,4.2,4.4,4.6,4.8,5,5.2,5.4,5.6,5.8,6,6.2,6.4,6.6,6.8,7,7.2,7.4,7.6,7.8,8,8.2,8.4,8.6,8.8,9,9.2,9.4,9.6,9.8,10],
                       "tickSize": {"condition": {"test": "abs(datum.value - round(datum.value)) < 0.001", "value": -14}, "value": -7},
                       "labelPadding": 23,
                       "labelExpr": "abs(datum.value - round(datum.value)) < 0.001 ? format(datum.value, 'd') : ''"}},
        "y": {"type": "quantitative",
              "scale": {"domain": [0, 2], "nice": false, "zero": false},
              "axis": {"title": null,
                       "values": [0,0.05,0.1,0.15,0.2,0.25,0.3,0.35,0.4,0.45,0.5,0.55,0.6,0.65,0.7,0.75,0.8,0.85,0.9,0.95,1,1.05,1.1,1.15,1.2,1.25,1.3,1.35,1.4,1.45,1.5,1.55,1.6,1.65,1.7,1.75,1.8,1.85,1.9,1.95,2],
                       "tickSize": {"condition": {"test": "abs(datum.value*5 - round(datum.value*5)) < 0.001", "value": -7}, "value": -3.5},
                       "labelPadding": 11,
                       "labelExpr": "abs(datum.value*5 - round(datum.value*5)) < 0.001 ? format(datum.value, '~g') : ''"}}
      },
      "layer": [
        {"data": {"values": [{}]}, "mark": {"type": "point", "shape": "M -1 0.263 L -0.526 -0.263 L 1 0.263 Z", "size": 1444, "fill": "#ffff00", "strokeWidth": 0, "opacity": 1, "filled": true},
         "encoding": {"x": {"datum": 8.386}, "y": {"datum": -0.2294}}},
        {"data": {"values": [{}]}, "mark": {"type": "rect", "fill": "black"},
         "encoding": {"x": {"datum": 2.226}, "x2": {"datum": 9.339}, "y": {"datum": 1.9587}, "y2": {"datum": 1.4739}}},
        {"data": {"values": [{}]}, "mark": {"type": "rect", "fill": "#f2f2f2", "stroke": "black", "strokeWidth": 1},
         "encoding": {"x": {"datum": 1.93}, "x2": {"datum": 9.125}, "y": {"datum": 2}, "y2": {"datum": 1.497}}},
        {"data": {"name": "pion"},
         "mark": {"type": "point", "size": 105, "strokeWidth": 1, "opacity": 1},
         "encoding": {
           "x": {"field": "x"},
           "y": {"field": "y"},
           "shape": {"field": "s", "type": "nominal",
                     "scale": {"domain": ["pp", "pm"], "range": ["triangle-up", "triangle-down"]},
                     "legend": {"legendX": 20, "legendY": 21.5, "rowPadding": 42, "symbolSize": 80,
                                "labelExpr": "datum.value == 'pp' ? 'π⁺ C 78/0.75 cm' : 'π⁻ C 78/0.75 cm'"}},
           "fill": {"field": "s", "type": "nominal",
                    "scale": {"domain": ["pp", "pm"], "range": ["black", "black"]},
                    "legend": {"legendX": 20, "legendY": 21.5, "rowPadding": 42, "symbolSize": 80,
                               "labelExpr": "datum.value == 'pp' ? 'π⁺ C 78/0.75 cm' : 'π⁻ C 78/0.75 cm'"}},
           "stroke": {"field": "s", "type": "nominal",
                      "scale": {"domain": ["pp", "pm"], "range": ["black", "black"]},
                      "legend": {"legendX": 20, "legendY": 21.5, "rowPadding": 42, "symbolSize": 80,
                                 "labelExpr": "datum.value == 'pp' ? 'π⁺ C 78/0.75 cm' : 'π⁻ C 78/0.75 cm'"}}
         }},
        {"data": {"values": [{}]},
         "mark": {"type": "text", "text": "π", "font": "Liberation Serif", "fontWeight": "bold", "fontSize": 72, "color": "#ff00ff", "align": "left", "baseline": "alphabetic"},
         "encoding": {"x": {"datum": 4.963}, "y": {"datum": 1.064}}},
        {"data": {"values": [{}]},
         "mark": {"type": "text", "text": "+", "font": "Liberation Sans", "fontWeight": "bold", "fontSize": 38, "color": "#ff00ff", "align": "center", "baseline": "middle"},
         "encoding": {"x": {"datum": 6.925}, "y": {"datum": 1.252}}},
        {"data": {"values": [{}]},
         "mark": {"type": "text", "text": "π", "font": "Liberation Serif", "fontWeight": "bold", "fontSize": 72, "color": "#ff00ff", "align": "left", "baseline": "alphabetic"},
         "encoding": {"x": {"datum": 5.498}, "y": {"datum": 0.151}}},
        {"data": {"values": [{}]},
         "mark": {"type": "text", "text": "−", "font": "Liberation Sans", "fontWeight": "bold", "fontSize": 44, "color": "#ff00ff", "align": "center", "baseline": "middle"},
         "encoding": {"x": {"datum": 7.46}, "y": {"datum": 0.344}}}
      ]
    },
    {
      "width": 231, "height": 436,
      "encoding": {
        "x": {"type": "quantitative",
              "scale": {"domain": [1.93, 10.17], "nice": false, "zero": false},
              "axis": {"title": "Ek(p) (GeV)", "titleAnchor": "end", "titlePadding": -1,
                       "values": [2,2.2,2.4,2.6,2.8,3,3.2,3.4,3.6,3.8,4,4.2,4.4,4.6,4.8,5,5.2,5.4,5.6,5.8,6,6.2,6.4,6.6,6.8,7,7.2,7.4,7.6,7.8,8,8.2,8.4,8.6,8.8,9,9.2,9.4,9.6,9.8,10],
                       "tickSize": {"condition": {"test": "abs(datum.value - round(datum.value)) < 0.001", "value": -14}, "value": -7},
                       "labelPadding": 23,
                       "labelExpr": "abs(datum.value - round(datum.value)) < 0.001 ? format(datum.value, 'd') : ''"}},
        "y": {"type": "quantitative",
              "scale": {"domain": [0, 50], "nice": false, "zero": false},
              "axis": {"title": "neutron", "titleAnchor": "end", "titlePadding": 2, "titleFontSize": 9,
                       "values": [0,1,2,3,4,5,6,7,8,9,10,11,12,13,14,15,16,17,18,19,20,21,22,23,24,25,26,27,28,29,30,31,32,33,34,35,36,37,38,39,40,41,42,43,44,45,46,47,48,49,50],
                       "tickSize": {"condition": {"test": "datum.value % 5 == 0", "value": -7}, "value": -3.5},
                       "labelPadding": 11,
                       "labelExpr": "datum.value % 5 == 0 ? format(datum.value, 'd') : ''"}}
      },
      "layer": [
        {"data": {"values": [{}]}, "mark": {"type": "point", "shape": "M -1 0.293 L 1 -0.293 L 0.854 0.293 Z", "size": 6724, "fill": "#ffff00", "strokeWidth": 0, "opacity": 1, "filled": true},
         "encoding": {"x": {"datum": 1.966}, "y": {"datum": -4.931}}},
        {"data": {"values": [{}]}, "mark": {"type": "rect", "fill": "black"},
         "encoding": {"x": {"datum": 2.240}, "x2": {"datum": 9.314}, "y": {"datum": 48.97}, "y2": {"datum": 43.08}}},
        {"data": {"values": [{}]}, "mark": {"type": "rect", "fill": "#f2f2f2", "stroke": "black", "strokeWidth": 1},
         "encoding": {"x": {"datum": 1.93}, "x2": {"datum": 9.111}, "y": {"datum": 50}, "y2": {"datum": 43.73}}},
        {"data": {"name": "neutron"},
         "mark": {"type": "point", "size": 85, "strokeWidth": 1, "opacity": 1},
         "encoding": {
           "x": {"field": "x"},
           "y": {"field": "y"},
           "shape": {"field": "s", "type": "nominal",
                     "scale": {"domain": ["n"], "range": ["triangle-up"]},
                     "legend": {"legendX": 20, "legendY": 21.5, "rowPadding": 14, "symbolSize": 80,
                                "labelExpr": "'neutron C 78/0.75 cm'"}},
           "fill": {"field": "s", "type": "nominal",
                    "scale": {"domain": ["n"], "range": ["transparent"]},
                    "legend": {"legendX": 20, "legendY": 21.5, "rowPadding": 14, "symbolSize": 80,
                               "labelExpr": "'neutron C 78/0.75 cm'"}},
           "stroke": {"field": "s", "type": "nominal",
                      "scale": {"domain": ["n"], "range": ["black"]},
                      "legend": {"legendX": 20, "legendY": 21.5, "rowPadding": 14, "symbolSize": 80,
                                 "labelExpr": "'neutron C 78/0.75 cm'"}}
         }},
        {"data": {"values": [{}]},
         "mark": {"type": "text", "text": ["n flux", "dramatically", "reduced wrt", "Hg! (~ 15 x)"], "lineHeight": 34.3, "font": "DejaVu Sans", "fontWeight": "bold", "fontSize": 29, "color": "#ff0000", "align": "left", "baseline": "alphabetic"},
         "encoding": {"x": {"datum": 2.337}, "y": {"datum": 32.68}}},
        {"data": {"values": [{}]},
         "mark": {"type": "text", "text": "n", "font": "DejaVu Sans", "fontWeight": "bold", "fontSize": 75, "color": "#ff00ff", "align": "left", "baseline": "alphabetic"},
         "encoding": {"x": {"datum": 3.286}, "y": {"datum": 9.862}}}
      ]
    }
  ]
}
